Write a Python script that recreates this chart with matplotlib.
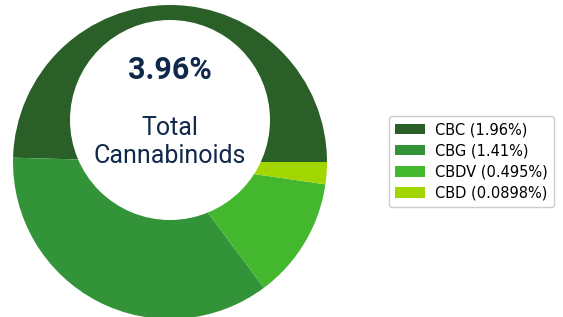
import matplotlib.pyplot as plt
from matplotlib.patches import Circle

labels = ["CBC", "CBG", "CBDV", "CBD"]
values = [1.96, 1.41, 0.495, 0.0898]
colors = ["#2a5f27", "#339338", "#43b82f", "#a2d600"]
total = 3.96

W, H = 563, 317
fig = plt.figure(figsize=(W / 100, H / 100), dpi=100)
ax = fig.add_axes([0, 0, 1, 1])

wedges, _ = ax.pie(values, colors=colors, startangle=0, counterclock=True,
                   center=(170, H - 162), radius=157,
                   wedgeprops=dict(linewidth=0))
ax.add_patch(Circle((170, H - 120), 100, facecolor="white", edgecolor="none", zorder=3))

navy = "#10284a"
ax.text(170, H - 70, "%.2f%%" % total, ha="center", va="center", fontsize=22,
        fontweight="bold", color=navy, family="Roboto", zorder=4)
ax.text(170, H - 142, "Total\nCannabinoids", ha="center", va="center", fontsize=18,
        color=navy, family="Roboto", linespacing=1.2, zorder=4)

ax.set_xlim(0, W)
ax.set_ylim(0, H)
ax.set_aspect("equal")
ax.axis("off")

leg_labels = ["%s (%s%%)" % (l, v) for l, v in zip(labels, values)]
ax.legend(wedges, leg_labels, loc="center",
          bbox_to_anchor=(471.5 / W, 1 - 161.5 / H), bbox_transform=fig.transFigure,
          fontsize=10.5, labelspacing=0.42, handlelength=2.05, handleheight=0.7,
          handletextpad=0.65, borderpad=0.45, frameon=True, edgecolor="#cccccc",
          fancybox=True, framealpha=1)

fig.savefig("out.png", dpi=100)
